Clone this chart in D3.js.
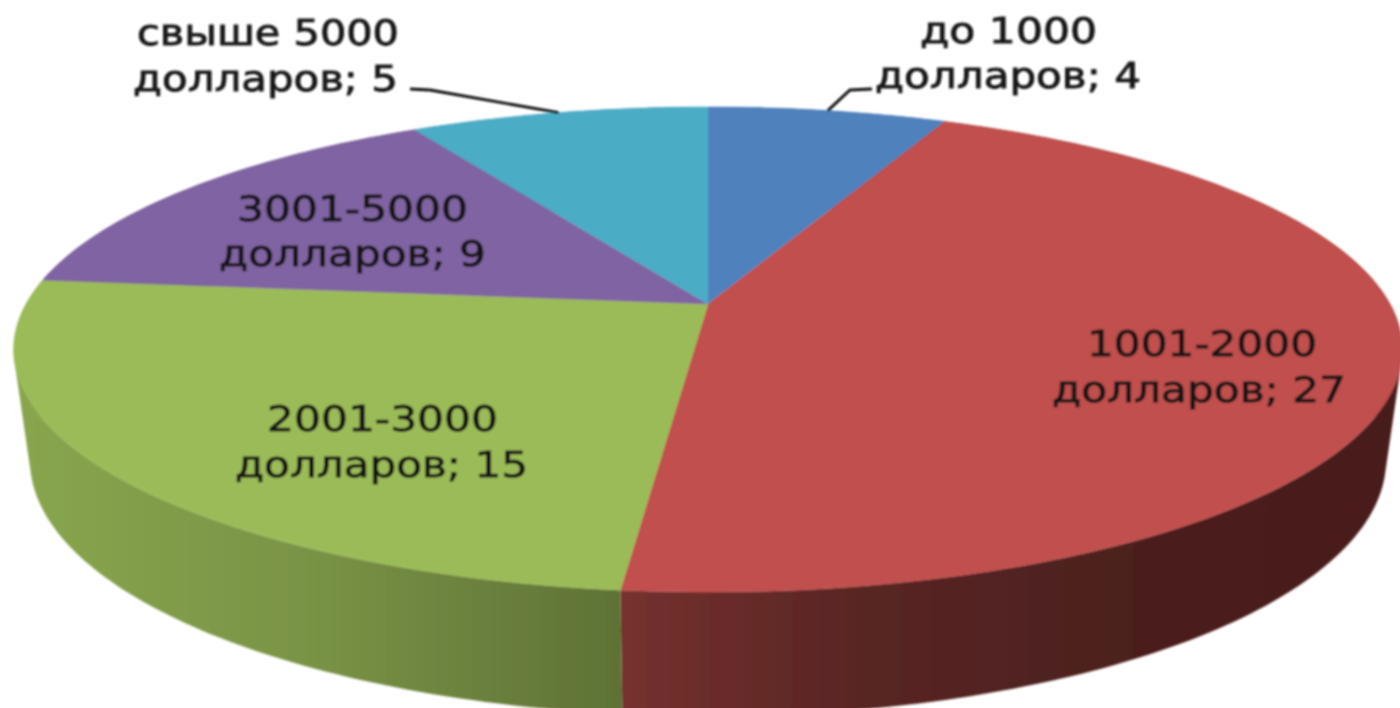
<!DOCTYPE html>
<html><head><meta charset="utf-8">
<script src="https://cdn.jsdelivr.net/npm/d3@7"></script>
<style>html,body{margin:0;padding:0;background:#fff;overflow:hidden}svg{display:block}</style>
</head><body><svg id="c" width="1400" height="708"></svg>
<script>
const categories = ["до 1000 долларов","1001-2000 долларов","2001-3000 долларов","3001-5000 долларов","свыше 5000 долларов"];
const values = [4,27,15,9,5];
const colors = ["#4F81BD","#C0504D","#9BBB59","#8064A2","#4BACC6"];

// label layout: [line1, line2] with left/right extents and baselines
const labelLines = [
  [["до 1000",920,1097,43],["долларов; 4",875,1141,88]],
  [["1001-2000",1087,1317,356],["долларов; 27",1052,1346,402]],
  [["2001-3000",267,498,431],["долларов; 15",235,528,477]],
  [["3001-5000",237,468,221],["долларов; 9",219,486,266]],
  [["свыше 5000",137,399,45],["долларов; 5",133,398,91]]
];
const leaderElbows = {0:[[850,90],[872,89]],4:[[430,90],[410,89]]};

const svg = d3.select("#c");
const defs = svg.append("defs");
defs.append("filter").attr("id","soft").attr("x","-2%").attr("y","-2%").attr("width","104%").attr("height","104%")
  .append("feGaussianBlur").attr("stdDeviation",0.8);
const g = svg.append("g").attr("filter","url(#soft)");

// perspective projection of the pie disc (top and bottom faces)
const k = 0.1877;
function project(a, face){
  const u = Math.sin(a), v = Math.cos(a), w = 1 + k*v;
  const P = face === "top" ? {A:682,B:234,y:304} : {A:666,B:247,y:412};
  return [708 + P.A*u/w, P.y - P.B*v/w];
}
const pie = d3.pie().sort(null).value(d=>d)(values);
const stepAngle = Math.PI/180;
const angleSteps = (a0,a1)=>{
  const n = Math.max(1,Math.ceil((a1-a0)/stepAngle));
  return d3.range(n+1).map(i=>a0+(a1-a0)*i/n);
};
// side shading follows screen x
const shadeX = [30,300,620,850,1100,1400];
const shadeM = [0.88,0.79,0.61,0.47,0.40,0.38];
const tint = (c,m)=>{const r=d3.rgb(c);return d3.rgb(r.r*m,r.g*m,r.b*m).formatHex();};
const line = d3.line();

colors.forEach((c,i)=>{
  const gr = defs.append("linearGradient").attr("id","wall"+i).attr("gradientUnits","userSpaceOnUse")
    .attr("x1",shadeX[0]).attr("x2",shadeX[shadeX.length-1]).attr("y1",0).attr("y2",0);
  shadeX.forEach((x,j)=>gr.append("stop")
    .attr("offset",(x-shadeX[0])/(shadeX[shadeX.length-1]-shadeX[0]))
    .attr("stop-color",tint(c,shadeM[j])));
});

// walls: one path per slice, a quad per angle step, all wound the same way so overlaps add up
g.append("g").selectAll("path").data(pie).join("path")
  .attr("d",s=>d3.pairs(angleSteps(s.startAngle,s.endAngle)).map(([a,b])=>{
      const q=[project(a,"top"),project(b,"top"),project(b,"bottom"),project(a,"bottom")];
      if(d3.polygonArea(q)<0) q.reverse();
      return line(q)+"Z";
    }).join(""))
  .attr("fill",(s,i)=>`url(#wall${i})`).attr("fill-rule","nonzero");

// top face
g.append("g").selectAll("path").data(pie).join("path")
  .attr("d",s=>line([[708,304],...angleSteps(s.startAngle,s.endAngle).map(a=>project(a,"top"))])+"Z")
  .attr("fill",(s,i)=>colors[i]).attr("stroke",(s,i)=>colors[i]).attr("stroke-width",0.5);

// leaders
Object.keys(leaderElbows).forEach(i=>{
  const s = pie[+i], mid=(s.startAngle+s.endAngle)/2;
  g.append("path").attr("d",line([project(mid,"top"),...leaderElbows[i]]))
    .attr("fill","none").attr("stroke","#111").attr("stroke-width",2.8);
});

// labels
labelLines.forEach(ls=>ls.forEach(([t,x0,x1,y])=>{
  g.append("text").text(t).attr("x",x0).attr("y",y)
    .attr("textLength",x1-x0).attr("lengthAdjust","spacingAndGlyphs")
    .attr("font-family","'DejaVu Sans',Verdana,sans-serif").attr("font-size",36)
    .attr("fill","#141414").attr("stroke","#141414").attr("stroke-width",0.8);
}));
</script></body></html>
